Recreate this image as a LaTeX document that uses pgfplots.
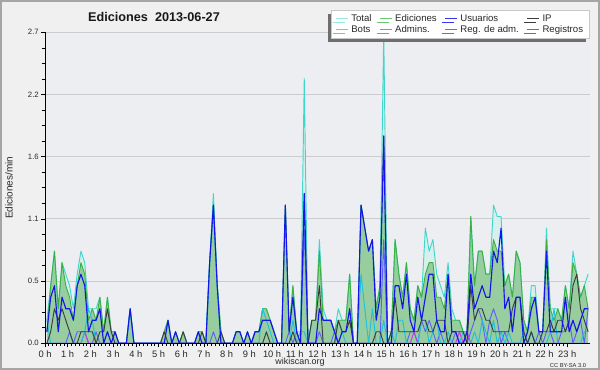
\documentclass[border=0pt]{standalone}
\usepackage{pgfplots}
\pgfplotsset{compat=1.18}
\usepackage{pgfplotstable}
\usepackage{fontspec}
\setmainfont{Liberation Sans}
\usetikzlibrary{shadows}

\definecolor{outerbg}{RGB}{240,240,240}
\definecolor{plotbg}{RGB}{237,238,241}
\definecolor{bordercol}{RGB}{165,165,165}
\definecolor{gridcol}{RGB}{204,204,206}
\definecolor{labcol}{RGB}{40,40,40}
\definecolor{totline}{RGB}{64,214,204}
\definecolor{totfill}{RGB}{216,240,236}
\definecolor{edline}{RGB}{60,176,66}
\definecolor{edfill}{RGB}{146,203,151}
\definecolor{usline}{RGB}{20,20,235}
\definecolor{ipline}{RGB}{60,60,60}
\definecolor{adline}{RGB}{30,192,222}
\definecolor{regline}{RGB}{95,95,255}
\definecolor{radline}{RGB}{205,55,225}
\definecolor{botline}{RGB}{245,160,50}
\definecolor{legbord}{RGB}{200,200,200}
\definecolor{shadowcol}{RGB}{110,110,110}

\pgfplotstableread{
x T E U P A R M
0.5 0.2 0.1 0.1 0 0.2 0 0
1.5 0.5 0.5 0.4 0.1 0 0 0
2.5 0.8 0.8 0.5 0.3 0 0 0
3.5 0.3 0.3 0.1 0.2 0 0 0
4.5 0.7 0.7 0.4 0.3 0 0 0
5.5 0.6 0.5 0.3 0.2 0 0 0
6.5 0.5 0.4 0.3 0.1 0 0.1 0
7.5 0.3 0.2 0.2 0 0 0 0
8.5 0.6 0.5 0.5 0 0 0.1 0
9.5 0.8 0.7 0.6 0.1 0 0.1 0
10.5 0.7 0.6 0.5 0.1 0.1 0.1 0.1
11.5 0.3 0.2 0.1 0.1 0.3 0 0
12.5 0.3 0.3 0.2 0.1 0.2 0 0
13.5 0.3 0.2 0.2 0 0 0.1 0
14.5 0.4 0.4 0.3 0.1 0 0 0
15.5 0.1 0.1 0 0.1 0 0 0
16.5 0.4 0.4 0.1 0.3 0 0 0
17.5 0.1 0.1 0 0.1 0 0 0
18.5 0.1 0.1 0.1 0 0 0 0
19.5 0 0 0 0 0 0 0
20.5 0 0 0 0 0 0 0
21.5 0 0 0 0 0 0 0
22.5 0.3 0.3 0.3 0 0.3 0 0
23.5 0 0 0 0 0 0 0
24.5 0 0 0 0 0 0 0
25.5 0 0 0 0 0 0 0
26.5 0 0 0 0 0 0 0
27.5 0 0 0 0 0 0 0
28.5 0 0 0 0 0 0 0
29.5 0 0 0 0 0 0 0
30.5 0 0 0 0 0 0 0
31.5 0.1 0.1 0 0.1 0 0 0
32.5 0.2 0.2 0.2 0 0 0 0
33.5 0 0 0 0 0 0 0
34.5 0.1 0.1 0.1 0 0 0 0
35.5 0 0 0 0 0 0 0
36.5 0.1 0.1 0 0.1 0 0 0
37.5 0 0 0 0 0 0 0
38.5 0 0 0 0 0 0 0
39.5 0 0 0 0 0 0 0
40.5 0.1 0.1 0.1 0 0 0 0
41.5 0.1 0.1 0 0.1 0 0 0
42.5 0 0 0 0 0 0 0
43.5 0.7 0.7 0.7 0 0.7 0 0
44.5 1.3 1.2 1.2 0 1.2 0.1 0
45.5 0.5 0.5 0.5 0 0.5 0 0
46.5 0.1 0.1 0 0.1 0 0 0
47.5 0 0 0 0 0 0 0
48.5 0 0 0 0 0 0 0
49.5 0 0 0 0 0 0 0
50.5 0.1 0.1 0.1 0 0 0 0
51.5 0.1 0.1 0.1 0 0 0 0
52.5 0 0 0 0 0 0 0
53.5 0.1 0.1 0.1 0 0 0 0
54.5 0 0 0 0 0 0 0
55.5 0.1 0.1 0.1 0 0 0 0
56.5 0.1 0.1 0.1 0 0 0 0
57.5 0.3 0.3 0.2 0 0.3 0 0
58.5 0.3 0.3 0.2 0.1 0.2 0 0
59.5 0.2 0.2 0.2 0 0.1 0 0
60.5 0.1 0.1 0.1 0 0 0 0
61.5 0 0 0 0 0 0 0
62.5 0 0 0 0 0 0 0
63.5 1.2 1.2 1.2 0 0 0 0
64.5 0.1 0.1 0.1 0 0 0.1 0
65.5 0.5 0.5 0.4 0.1 0.2 0 0
66.5 0.1 0.1 0.1 0 0 0.1 0
67.5 0.1 0 0 0 0.1 0 0
68.5 2.3 1.3 1.3 0 0.1 1.0 0
69.5 0 0 0 0 0 0 0
70.5 0.2 0.2 0 0.2 0 0 0
71.5 0.2 0.2 0 0.2 0 0 0
72.5 0.9 0.8 0.3 0.5 0 0.1 0
73.5 0.3 0.2 0.2 0 0 0 0
74.5 0.2 0.2 0.2 0 0 0 0
75.5 0.2 0.2 0.2 0 0 0 0
76.5 0.1 0.1 0.1 0 0 0.1 0
77.5 0.3 0.2 0 0.2 0.2 0 0
78.5 0.2 0.2 0.1 0.1 0.1 0 0
79.5 0.2 0.2 0.1 0.1 0 0 0
80.5 0.6 0.6 0.3 0.2 0 0 0
81.5 0 0 0 0 0 0 0
82.5 0 0 0 0 0 0 0
83.5 1.2 1.2 1.2 0 0.6 0 0
84.5 1.0 1.0 1.0 0 0.3 0 0
85.5 0.8 0.8 0.8 0 0 0 0
86.5 0.9 0.9 0.9 0 0.3 0 0
87.5 0.3 0.3 0.2 0.1 0 0 0
88.5 0.5 0.5 0.4 0.1 0 0 0
89.5 2.7 1.8 1.8 0 0.2 0.9 0
90.5 0.1 0 0 0 0 0 0
91.5 0.1 0.1 0 0.1 0.1 0 0
92.5 0.9 0.9 0.5 0.4 0 0 0
93.5 0.6 0.6 0.5 0.1 0.2 0 0
94.5 0.4 0.4 0.3 0.1 0.2 0 0
95.5 0.7 0.7 0.6 0.1 0 0 0
96.5 0.3 0.3 0.2 0.1 0 0.1 0
97.5 0.2 0.2 0.1 0.1 0 0.1 0.1
98.5 0.5 0.5 0.4 0.1 0 0 0
99.5 0.4 0.4 0.2 0.2 0.2 0.2 0
100.5 1.0 0.6 0.4 0.2 0.2 0.1 0
101.5 0.8 0.7 0.6 0.1 0 0.2 0
102.5 0.9 0.7 0.6 0.1 0.1 0.1 0
103.5 0.6 0.4 0.2 0.2 0.2 0 0
104.5 0.5 0.4 0.1 0.2 0 0.1 0
105.5 0.4 0.3 0.1 0.2 0 0 0
106.5 0.7 0.6 0.6 0 0.1 0 0
107.5 0.3 0.2 0.1 0.1 0 0 0
108.5 0.2 0.2 0.1 0.1 0 0.1 0
109.5 0.2 0.2 0 0.1 0 0 0.1
110.5 0.1 0.1 0 0.1 0.1 0 0
111.5 0.1 0.1 0.1 0 0 0 0.1
112.5 1.1 1.1 0.6 0.5 0 0.1 0
113.5 0.5 0.5 0.3 0.2 0.1 0.2 0
114.5 0.8 0.8 0.4 0.3 0 0.3 0
115.5 0.8 0.8 0.5 0.3 0.2 0.2 0
116.5 0.6 0.6 0.4 0.2 0.1 0 0
117.5 0.6 0.6 0.4 0.2 0 0.2 0
118.5 1.2 0.9 0.8 0.1 0.2 0.3 0
119.5 1.1 0.8 0.7 0.1 0 0.2 0
120.5 1.1 0.8 1.0 0.1 0.1 0 0
121.5 0.5 0.5 0.3 0.1 0 0.1 0
122.5 0.6 0.6 0.4 0.1 0.1 0 0
123.5 0.4 0.4 0.1 0.3 0 0 0
124.5 0.8 0.8 0.4 0.4 0 0 0
125.5 0.7 0.7 0.4 0.4 0 0 0
126.5 0.2 0.2 0 0.1 0.1 0 0
127.5 0.1 0.1 0.1 0 0 0 0
128.5 0.5 0.4 0.3 0.1 0.1 0.1 0
129.5 0.5 0.4 0.4 0 0 0 0
130.5 0.1 0.1 0.1 0 0 0.1 0
131.5 0.1 0.1 0.1 0.1 0 0 0
132.5 1.0 0.9 0.8 0.1 0 0.1 0
133.5 0.3 0.3 0.1 0.2 0.1 0.1 0
134.5 0.3 0.2 0.1 0.1 0.3 0 0
135.5 0.3 0.3 0.1 0.2 0 0 0
136.5 0.2 0.2 0.1 0.2 0 0.1 0
137.5 0.5 0.5 0.4 0.1 0 0.1 0
138.5 0.3 0.3 0.1 0.2 0 0.2 0
139.5 0.8 0.7 0.2 0.5 0 0 0
140.5 0.6 0.6 0.1 0.6 0 0.1 0
141.5 0.4 0.4 0.2 0.3 0 0.2 0
142.5 0.5 0.5 0.3 0.2 0.1 0 0
143.5 0.6 0.3 0.3 0.1 0.1 0.3 0
}\data

\begin{document}
\begin{tikzpicture}
\useasboundingbox (0,0) rectangle (450pt,277.5pt);
\fill[outerbg] (0,0) rectangle (450pt,277.5pt);
\draw[bordercol, line width=1.2pt] (0.6pt,0.6pt) rectangle (449.4pt,276.9pt);
\begin{axis}[
  at={(33.75pt,20.025pt)}, anchor=south west,
  scale only axis, width=408.75pt, height=233.25pt,
  xmin=0, xmax=144, ymin=0, ymax=2.7,
  axis x line*=bottom, axis y line*=left,
  axis line style={-, black, line width=0.6pt},
  axis background/.style={fill=plotbg},
  xtick={0,6,...,138},
  xticklabels={0 h,1 h,2 h,3 h,4 h,5 h,6 h,7 h,8 h,9 h,10 h,11 h,12 h,13 h,14 h,15 h,16 h,17 h,18 h,19 h,20 h,21 h,22 h,23 h},
  minor x tick num=5,
  ytick={0,0.54,1.08,1.62,2.16,2.7},
  yticklabels={0.0,0.5,1.1,1.6,2.2,2.7},
  minor y tick num=3,
  ymajorgrids, major grid style={gridcol, line width=0.6pt},
  tick align=outside, major tick length=3pt, minor tick length=2.2pt,
  every tick/.style={black, line width=0.5pt},
  xticklabel style={font=\fontsize{7}{8}\selectfont, text=labcol, inner sep=1pt, yshift=-1.2pt},
  yticklabel style={font=\fontsize{5.8}{7}\selectfont, text=labcol, inner sep=1.5pt},
  xlabel={wikiscan.org},
  xlabel style={at={(axis description cs:0.468,-0.062)}, anchor=center, font=\fontsize{6.7}{8}\selectfont, text=labcol},
  ylabel={Ediciones/min},
  ylabel style={at={(axis description cs:-0.066,0.5)}, anchor=center, font=\fontsize{7.5}{9}\selectfont, text=labcol},
  legend columns=4,
  legend cell align=left,
  legend image code/.code={\draw[#1] (0pt,0pt) -- (9pt,0pt);},
  legend style={at={(axis description cs:1,1.0717)}, anchor=north east,
    draw=legbord, fill=white, font=\fontsize{7.2}{8}\selectfont, text=labcol,
    inner xsep=3pt, inner ysep=1pt, row sep=-2.5pt,
    drop shadow={shadow xshift=-2.5pt, shadow yshift=-2.5pt, fill=shadowcol, opacity=1},
    /tikz/every even column/.append style={column sep=4pt}},
  every axis plot/.append style={line join=round},
]
\addplot[draw=none, fill=totfill, forget plot] table[x=x, y=T] {\data} \closedcycle;
\addplot[draw=none, fill=edfill, fill opacity=0.9, forget plot] table[x=x, y=E] {\data} \closedcycle;
\addplot[totline, line width=0.7pt, forget plot] table[x=x, y=T] {\data};
\addplot[edline, line width=0.7pt, forget plot] table[x=x, y=E] {\data};
\addplot[regline, line width=0.7pt, forget plot] table[x=x, y=R] {\data};
\addplot[radline, line width=0.7pt, forget plot] table[x=x, y=M] {\data};
\addplot[adline, line width=0.7pt, forget plot] table[x=x, y=A] {\data};
\addplot[ipline, line width=0.7pt, forget plot] table[x=x, y=P] {\data};
\addplot[usline, line width=0.85pt, forget plot] table[x=x, y=U] {\data};

\addlegendimage{totline!55, line width=0.7pt}\addlegendentry{Total}
\addlegendimage{edline!75, line width=0.7pt}\addlegendentry{Ediciones}
\addlegendimage{usline!85, line width=0.7pt}\addlegendentry{Usuarios}
\addlegendimage{ipline, line width=0.7pt}\addlegendentry{IP}
\addlegendimage{botline, line width=0.7pt}\addlegendentry{Bots}
\addlegendimage{adline, line width=0.7pt}\addlegendentry{Admins.}
\addlegendimage{radline, line width=0.7pt}\addlegendentry{Reg. de adm.}
\addlegendimage{regline, line width=0.7pt}\addlegendentry{Registros}
\end{axis}
\draw[black, line width=0.6pt] (current axis.south west) -- (current axis.south east);
\node[font=\bfseries\fontsize{9.5}{11}\selectfont, text=black!90] at (115.5pt,265.1pt) {Ediciones\ \ 2013-06-27};
\node[font=\fontsize{4.3}{5}\selectfont, text=labcol] at (426pt,3.2pt) {CC BY-SA 3.0};
\end{tikzpicture}
\end{document}
